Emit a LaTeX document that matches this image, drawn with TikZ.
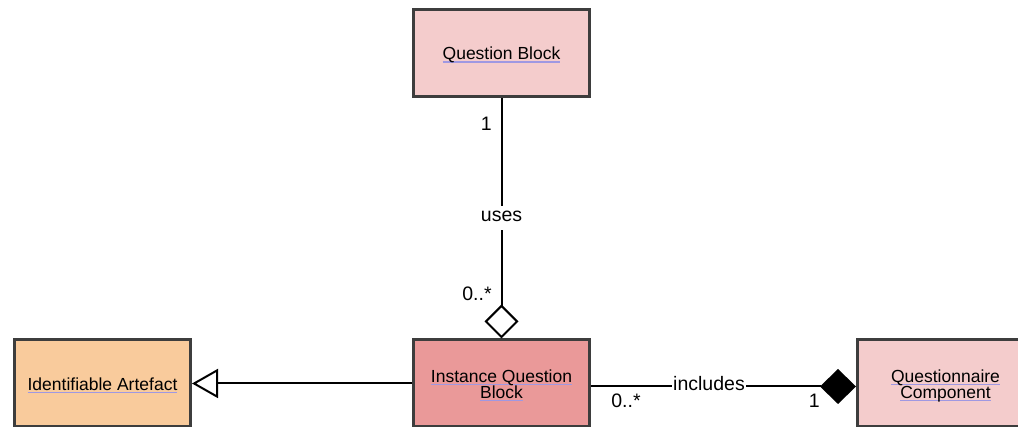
\documentclass[tikz,border=0pt]{standalone}
\usepackage{fontspec}
\setmainfont{Liberation Sans}
\usepackage{xcolor}
\usetikzlibrary{arrows.meta,positioning}
\definecolor{pinkbox}{HTML}{F4CCCC}
\definecolor{rosebox}{HTML}{EA9999}
\definecolor{peachbox}{HTML}{F9CB9C}
\definecolor{edge}{HTML}{3D3D3D}
\definecolor{ulink}{HTML}{9F98E2}
\newsavebox{\ulkbox}
\newcommand{\ulk}[1]{\sbox{\ulkbox}{#1}\smash{\rlap{\textcolor{ulink}{\rule[-1.6pt]{\wd\ulkbox}{0.8pt}}}\usebox{\ulkbox}}\rule{0pt}{6.6pt}}
\tikzset{
  cls/.style={draw=edge,line width=1.5pt,minimum width=88pt,minimum height=43.5pt,align=center,inner sep=0pt,font=\fontsize{8.75}{8}\selectfont},
  clsp/.style={cls,fill=pinkbox},
  clsr/.style={cls,fill=rosebox},
  clso/.style={cls,fill=peachbox},
  assoc/.style={line width=1pt,color=black},
  lbl/.style={inner sep=0pt,font=\fontsize{9.75}{11}\selectfont},
  lblw/.style={lbl,fill=white,text height=8pt,text depth=4pt},
}
\begin{document}
\begin{tikzpicture}[x=0.5pt,y=0.5pt]
\path[use as bounding box,clip] (0,0) rectangle (1018,427);
\node[clsp] (qblock) at (501.5,374) {\ulk{Question Block}};
\node[clsr] (iqblock) at (501.5,43.5) {\ulk{Instance Question}\\\ulk{Block}};
\node[clso] (artefact) at (102.5,43.5) {\ulk{Identifiable Artefact}};
\node[clsp] (qcomp) at (945.5,43.5) {\ulk{Questionnaire}\\\ulk{Component}};
\draw[assoc,-{Diamond[open,length=17pt,width=17pt]}] (qblock) -- (iqblock);
\draw[assoc,-{Triangle[open,length=13pt,width=14.5pt]}] (iqblock) -- (artefact);
\draw[assoc,-{Diamond[length=18pt,width=17.5pt]}] ([yshift=-1.5pt]iqblock.east) -- ([yshift=-1.5pt]qcomp.west);
\node[lbl,anchor=base east] (one1) at (492,296) {1};
\node[lblw,inner xsep=1pt,anchor=base] (uses) at (501.5,205) {uses};
\node[lbl,anchor=base east] (many1) at (492,126) {0..*};
\node[lblw,inner xsep=0.5pt,anchor=base] (incl) at (709,36.3) {includes};
\node[lbl,anchor=base west] (many2) at (611,19.7) {0..*};
\node[lbl,anchor=base east] (one2) at (820,19.7) {1};
\end{tikzpicture}
\end{document}
